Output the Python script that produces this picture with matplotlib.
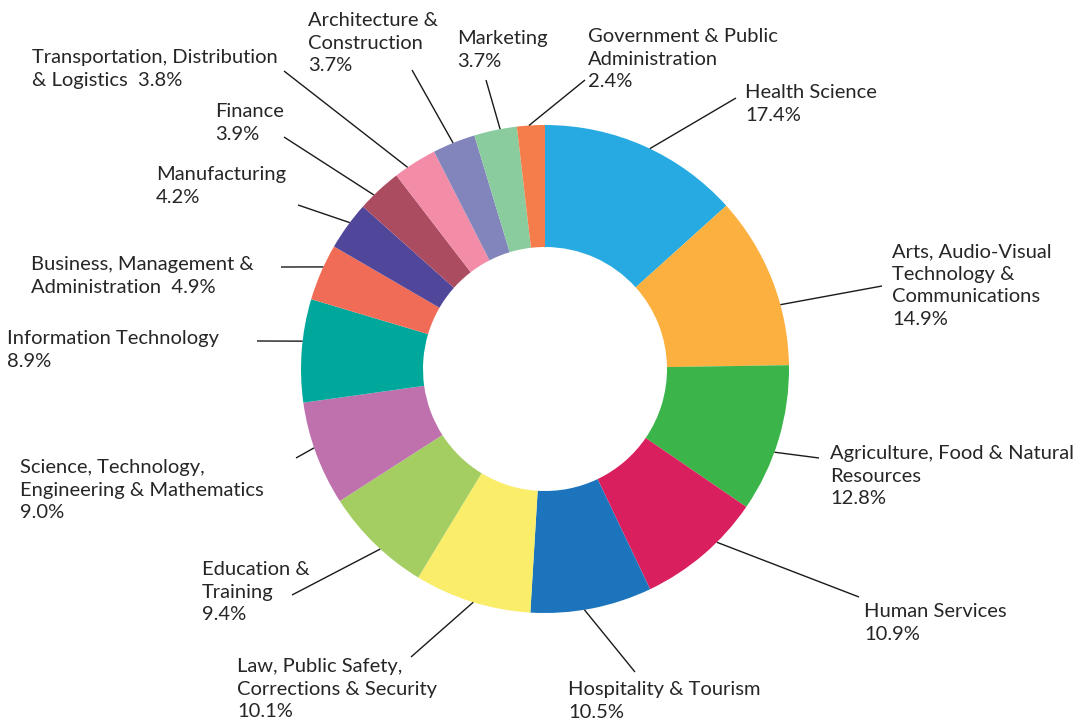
import numpy as np
import matplotlib.pyplot as plt

categories = [
    "Health Science", "Arts, Audio-Visual Technology & Communications",
    "Agriculture, Food & Natural Resources", "Human Services",
    "Hospitality & Tourism", "Law, Public Safety, Corrections & Security",
    "Education & Training", "Science, Technology, Engineering & Mathematics",
    "Information Technology", "Business, Management & Administration",
    "Manufacturing", "Finance", "Transportation, Distribution & Logistics",
    "Architecture & Construction", "Marketing",
    "Government & Public Administration",
]
shares = [17.4, 14.9, 12.8, 10.9, 10.5, 10.1, 9.4, 9.0, 8.9,
          4.9, 4.2, 3.9, 3.8, 3.7, 3.7, 2.4]
# how each name is broken over lines in the picture
display_names = [
    "Health Science", "Arts, Audio-Visual\nTechnology &\nCommunications",
    "Agriculture, Food & Natural\nResources", "Human Services",
    "Hospitality & Tourism", "Law, Public Safety,\nCorrections & Security",
    "Education &\nTraining", "Science, Technology,\nEngineering & Mathematics",
    "Information Technology", "Business, Management &\nAdministration",
    "Manufacturing", "Finance", "Transportation, Distribution\n& Logistics",
    "Architecture &\nConstruction", "Marketing",
    "Government & Public\nAdministration",
]
pct_inline = ["Business, Management & Administration",
              "Transportation, Distribution & Logistics"]
colors = ["#27AAE1", "#FBB040", "#3BB54A", "#D91F5E", "#1C75BC", "#F9ED69",
          "#A4CE62", "#BF71AE", "#00A89C", "#F16C56", "#50479B", "#AC4C61",
          "#F28CA7", "#8285BC", "#8ACC9D", "#F47D4B"]

plt.rcParams['font.family'] = ['Lato', 'DejaVu Sans']

W, H = 1085, 721
fig = plt.figure(figsize=(W / 100, H / 100), dpi=100)
ax = fig.add_axes([0, 0, 1, 1])

# layout in pixels (x from left, y from top)
CX, CY, R = 545, 369, 244
text_pos = [(745, 84), (892, 243), (830, 445), (864, 603), (568, 681),
            (237, 658), (202, 561), (20, 459), (7, 330), (31, 256),
            (156, 166), (215, 103), (32, 49), (308, 12), (457, 30), (588, 28)]
line_end = [(736, 98), (882, 286), (819, 458), (859, 597), (635, 672),
            (411, 657), (292, 595), (296, 458), (257, 341), (281, 267),
            (298, 205), (284, 137), (284, 71), (412, 70), (486, 80), (585, 80)]
# where along each wedge (0 = start, 1 = end, clockwise) the leader meets it
anchor_frac = [0.53, 0.65, 0.59, 0.36, 0.56, 0.49, 0.43, 0.56, 0.59, 0.60,
               0.58, 0.35, 0.31, 0.48, 0.61, 0.43]

wedges, _ = ax.pie(shares, colors=colors, startangle=90, counterclock=False,
                   center=(CX, H - CY), radius=R,
                   wedgeprops=dict(width=R * 0.5, linewidth=0))

for w, cat, name, pct, (tx, ty), (lx, ly), f in zip(
        wedges, categories, display_names, shares, text_pos, line_end, anchor_frac):
    ang = np.deg2rad(w.theta2 - f * (w.theta2 - w.theta1))
    x0 = w.center[0] + w.r * np.cos(ang)
    y0 = w.center[1] + w.r * np.sin(ang)
    ax.plot([x0, lx], [y0, H - ly], color="#1a1a1a", lw=1.0,
            solid_capstyle='butt')
    sep = "  " if cat in pct_inline else "\n"
    ax.text(tx, H - ty, f"{name}{sep}{pct:.1f}%", ha='left', va='top',
            fontsize=14.5, color="#262626", linespacing=1.4)

ax.set_xlim(0, W)
ax.set_ylim(0, H)
ax.set_aspect('equal')
ax.axis('off')

fig.savefig("out.png", dpi=100)
